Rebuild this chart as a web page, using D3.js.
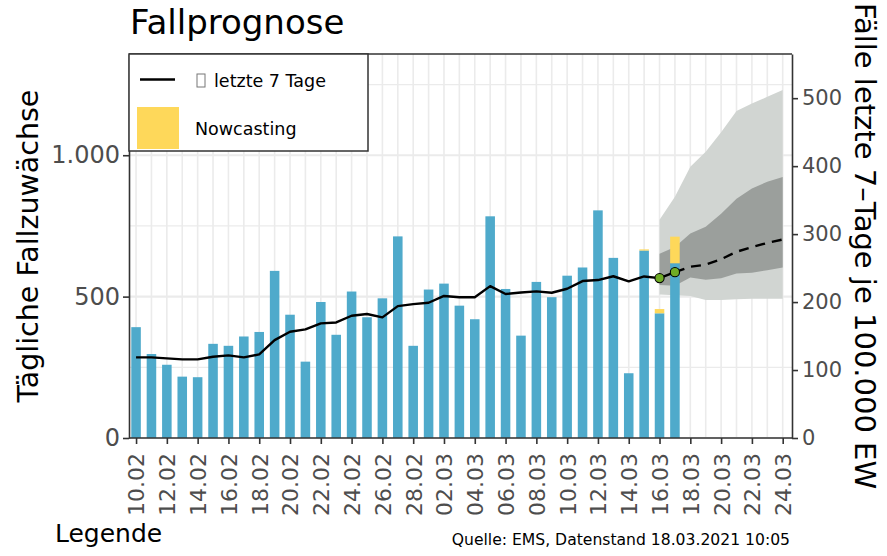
<!DOCTYPE html>
<html>
<head>
<meta charset="utf-8">
<script src="https://cdn.jsdelivr.net/npm/d3@7"></script>
<style>
  body { margin: 0; background: #fff; }
  text { font-family: "DejaVu Sans", sans-serif; }
</style>
</head>
<body>
<svg width="887" height="556"></svg>
<script>
let width = 887, height = 556;

// daily new cases (blue bars), 10.02 - 17.03
const barDates = ["10.02","11.02","12.02","13.02","14.02","15.02","16.02","17.02","18.02","19.02",
    "20.02","21.02","22.02","23.02","24.02","25.02","26.02","27.02","28.02","01.03",
    "02.03","03.03","04.03","05.03","06.03","07.03","08.03","09.03","10.03","11.03",
    "12.03","13.03","14.03","15.03","16.03","17.03"];
const dailyCases = [392, 297, 259, 217, 215, 333, 326, 359, 375, 591,
    436, 270, 481, 365, 518, 427, 494, 713, 326, 525,
    546, 468, 420, 784, 527, 362, 552, 498, 574, 603,
    805, 637, 229, 663, 441, 618];

// nowcasting (yellow, stacked on top)
const nowcastDates = ["15.03", "16.03", "17.03"];
const nowcastValues = [4, 15, 94];

// 7-day incidence per 100.000 (right axis)
const incidence = [118.6, 118.6, 117.2, 115.7, 115.7, 119.6, 121.6, 118.6, 123, 144,
    156.4, 159.8, 168.6, 170, 179.9, 182.4, 177.5, 194, 197, 199,
    209, 207, 207, 223.5, 211.8, 214, 215.7, 213.7, 219.6, 230.9,
    232.4, 238, 230.4, 237.7, 235.3, 244];

// forecast (dashed)
const forecastDates = ["17.03","18.03","19.03","20.03","21.03","22.03","23.03","24.03"];
const forecastValues = [244, 252, 255, 263, 274, 281, 287, 292];

// forecast intervals
const bandDates = ["16.03","17.03","18.03","19.03","20.03","21.03","22.03","23.03","24.03"];
const outerHigh = [321, 355, 399, 421, 450, 481, 492, 502, 512];
const outerLow = [211, 210, 209, 203, 203, 204, 205, 205, 205];
const innerHigh = [271, 281, 301, 311, 330, 352, 367, 377, 384];
const innerLow = [225, 224, 236, 233, 235, 242, 243, 247, 251];

// highlighted points
const pointDates = ["16.03", "17.03"];
const pointValues = [235.3, 244];

// axis ticks
const xTickLabels = ["10.02","12.02","14.02","16.02","18.02","20.02","22.02","24.02","26.02","28.02",
    "02.03","04.03","06.03","08.03","10.03","12.03","14.03","16.03","18.03","20.03","22.03","24.03"];
const leftTicks = [0, 500, 1000];
const rightTicks = [0, 100, 200, 300, 400, 500];

const parse = s => d3.timeParse("%d.%m.%Y")(s + ".2021");
const de = d3.formatLocale({decimal: ",", thousands: ".", grouping: [3], currency: ["", "€"]});

let svg = d3.select("svg");

const margin = {left: 129, right: 792, top: 54, bottom: 438};

let x = d3.scaleTime()
    .domain([new Date(2021, 1, 9, 13), new Date(2021, 2, 24, 14, 30)])
    .range([margin.left, margin.right]);
let yL = d3.scaleLinear().domain([0, 1358]).range([margin.bottom, margin.top]);
let yR = d3.scaleLinear().domain([0, 565]).range([margin.bottom, margin.top]);

const dayW = x(parse("11.02")) - x(parse("10.02"));
const barW = dayW * 0.62;

// grid
const grid = svg.append("g");
d3.timeDay.range(parse("10.02"), d3.timeDay.offset(parse("24.03"), 1)).forEach(d => {
    grid.append("line")
        .attr("x1", x(d)).attr("x2", x(d))
        .attr("y1", margin.top).attr("y2", margin.bottom)
        .attr("stroke", "#ebebeb").attr("stroke-width", 1.6);
});
[250, 750, 1250].forEach(v => {
    grid.append("line")
        .attr("x1", margin.left).attr("x2", margin.right)
        .attr("y1", yL(v)).attr("y2", yL(v))
        .attr("stroke", "#ebebeb").attr("stroke-width", 1.2);
});
leftTicks.forEach(v => {
    grid.append("line")
        .attr("x1", margin.left).attr("x2", margin.right)
        .attr("y1", yL(v)).attr("y2", yL(v))
        .attr("stroke", "#ebebeb").attr("stroke-width", 2.2);
});

// forecast bands
const area = (lo, hi) => d3.area()
    .x((d, i) => x(parse(bandDates[i])))
    .y0((d, i) => yR(lo[i]))
    .y1((d, i) => yR(hi[i]));

svg.append("path")
    .attr("d", area(outerLow, outerHigh)(bandDates))
    .attr("fill", "#d1d5d2");
svg.append("path")
    .attr("d", area(innerLow, innerHigh)(bandDates))
    .attr("fill", "#9b9f9c");

// bars
svg.append("g")
    .selectAll("rect")
    .data(barDates)
    .enter()
    .append("rect")
    .attr("x", (d, i) => x(parse(d)) - barW / 2)
    .attr("y", (d, i) => yL(dailyCases[i]))
    .attr("width", barW)
    .attr("height", (d, i) => yL(0) - yL(dailyCases[i]))
    .attr("fill", "#4faacb");

svg.append("g")
    .selectAll("rect")
    .data(nowcastDates)
    .enter()
    .append("rect")
    .attr("x", d => x(parse(d)) - barW / 2)
    .attr("y", (d, i) => {
        const base = dailyCases[barDates.indexOf(d)];
        return yL(base + nowcastValues[i]);
    })
    .attr("width", barW)
    .attr("height", (d, i) => yL(0) - yL(nowcastValues[i]))
    .attr("fill", "#fed85a");

// incidence line
const line = d3.line()
    .x(d => x(parse(d[0])))
    .y(d => yR(d[1]));

svg.append("path")
    .attr("d", line(barDates.map((d, i) => [d, incidence[i]])))
    .attr("fill", "none")
    .attr("stroke", "black")
    .attr("stroke-width", 2.4)
    .attr("stroke-linejoin", "round");

svg.append("path")
    .attr("d", line(forecastDates.map((d, i) => [d, forecastValues[i]])))
    .attr("fill", "none")
    .attr("stroke", "black")
    .attr("stroke-width", 2.4)
    .attr("stroke-dasharray", "10,7");

svg.append("g")
    .selectAll("circle")
    .data(pointDates)
    .enter()
    .append("circle")
    .attr("cx", d => x(parse(d)))
    .attr("cy", (d, i) => yR(pointValues[i]))
    .attr("r", 4.6)
    .attr("fill", "#6fac25")
    .attr("stroke", "black")
    .attr("stroke-width", 1.1);

// axes
const axisColor = "#333333";
const tickColor = "#4d4d4d";

const xAxis = svg.append("g")
    .attr("transform", `translate(0, ${margin.bottom})`)
    .call(d3.axisBottom(x)
        .tickValues(xTickLabels.map(parse))
        .tickFormat(d3.timeFormat("%d.%m"))
        .tickSize(6)
        .tickSizeOuter(0));
xAxis.select(".domain").attr("d", `M${margin.left},0H${margin.right}`);
xAxis.selectAll("text")
    .attr("transform", "rotate(-90)")
    .attr("text-anchor", "end")
    .attr("x", -15)
    .attr("y", 0)
    .attr("dy", "0.36em")
    .style("font-size", "22px")
    .attr("fill", tickColor);

const leftAxis = svg.append("g")
    .attr("transform", `translate(${margin.left}, 0)`)
    .call(d3.axisLeft(yL)
        .tickValues(leftTicks)
        .tickFormat(de.format(","))
        .tickSize(6)
        .tickSizeOuter(0));
leftAxis.selectAll("text")
    .attr("x", -9)
    .style("font-size", "24px")
    .attr("fill", tickColor);

const rightAxis = svg.append("g")
    .attr("transform", `translate(${margin.right}, 0)`)
    .call(d3.axisRight(yR)
        .tickValues(rightTicks)
        .tickSize(6)
        .tickSizeOuter(0));
rightAxis.selectAll("text")
    .attr("x", 10)
    .style("font-size", "21px")
    .attr("fill", tickColor);

[xAxis, leftAxis, rightAxis].forEach(a => {
    a.selectAll(".domain").attr("stroke", axisColor).attr("stroke-width", 1.6);
    a.selectAll(".tick line").attr("stroke", axisColor).attr("stroke-width", 1.6);
});

// top border
svg.append("line")
    .attr("x1", margin.left).attr("x2", margin.right)
    .attr("y1", margin.top).attr("y2", margin.top)
    .attr("stroke", axisColor).attr("stroke-width", 1.6);

// titles
svg.append("text")
    .attr("x", 130)
    .attr("y", 34)
    .style("font-size", "34px")
    .text("Fallprognose");

svg.append("text")
    .attr("transform", `translate(38, ${(margin.top + margin.bottom) / 2}) rotate(-90)`)
    .attr("text-anchor", "middle")
    .style("font-size", "28.5px")
    .text("Tägliche Fallzuwächse");

svg.append("text")
    .attr("transform", `translate(855, ${(margin.top + margin.bottom) / 2}) rotate(90)`)
    .attr("text-anchor", "middle")
    .style("font-size", "29px")
    .text("Fälle letzte 7–Tage je 100.000 EW");

svg.append("text")
    .attr("x", 55)
    .attr("y", 542)
    .style("font-size", "25px")
    .text("Legende");

svg.append("text")
    .attr("x", 790)
    .attr("y", 545)
    .attr("text-anchor", "end")
    .style("font-size", "15.6px")
    .text("Quelle: EMS, Datenstand 18.03.2021 10:05");

/* Legend */
const legend = svg.append("g");
legend.append("rect")
    .attr("x", 129).attr("y", 54)
    .attr("width", 239).attr("height", 97)
    .attr("fill", "white")
    .attr("stroke", axisColor)
    .attr("stroke-width", 1.5);
legend.append("line")
    .attr("x1", 140).attr("x2", 175)
    .attr("y1", 79.5).attr("y2", 79.5)
    .attr("stroke", "black").attr("stroke-width", 2.6);
legend.append("rect")
    .attr("x", 197).attr("y", 74)
    .attr("width", 8).attr("height", 13)
    .attr("fill", "none")
    .attr("stroke", "#777")
    .attr("stroke-width", 1);
legend.append("text")
    .attr("x", 214).attr("y", 87)
    .style("font-size", "17.5px")
    .text("letzte 7 Tage");
legend.append("rect")
    .attr("x", 137).attr("y", 107)
    .attr("width", 42).attr("height", 42)
    .attr("fill", "#fed85a");
legend.append("text")
    .attr("x", 195).attr("y", 135)
    .style("font-size", "17.5px")
    .text("Nowcasting");
</script>
</body>
</html>
